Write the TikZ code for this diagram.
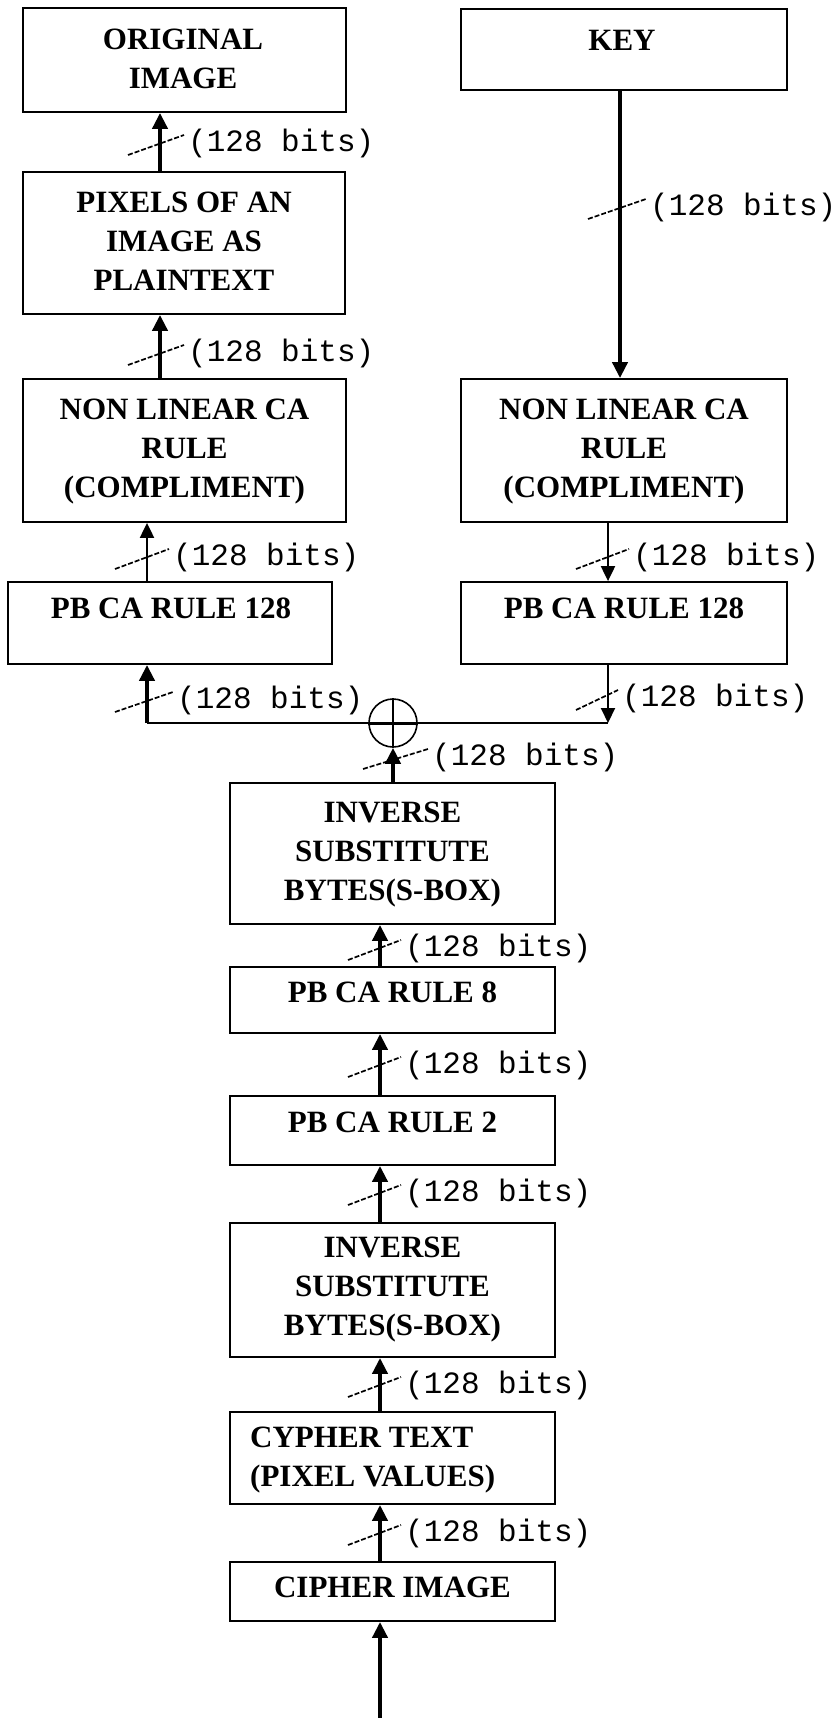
\documentclass[tikz,border=0pt]{standalone}
\usepackage{fontspec}
\setmainfont{Liberation Serif}
\newfontfamily\monof{Liberation Mono}
\usetikzlibrary{arrows.meta}
\newcommand\bitlabel[4]{%
  \draw[slash] (#2-32,#3+12) -- (#2+#4-4,#3-8);
  \node[bits] (#1) at (#2+#4,#3) {(128 bits)};}
\begin{document}
\begin{tikzpicture}[x=1pt,y=-1pt,
  blk/.style={draw, line width=1.8pt, inner sep=0pt},
  txt/.style={font=\bfseries\fontsize{31}{39}\selectfont, align=center, inner sep=0pt},
  bits/.style={font=\monof\fontsize{31}{31}\selectfont, anchor=west, inner sep=0pt},
  thk/.style={line width=4pt, -{Triangle[length=16pt,width=15pt]}},
  thn/.style={line width=2pt, -{Triangle[length=15pt,width=14pt]}},
  slash/.style={line width=1.7pt, dash pattern=on 5pt off 2pt}
]
\useasboundingbox (0,0) rectangle (836,1718);
% boxes
\node[blk, minimum width=323, minimum height=104] (orig) at (184.5,60) {};
\node[blk, minimum width=326, minimum height=81] (key) at (624,49.5) {};
\node[blk, minimum width=322, minimum height=142] (pix) at (184,243) {};
\node[blk, minimum width=323, minimum height=143] (nll) at (184.5,450.5) {};
\node[blk, minimum width=326, minimum height=143] (nlr) at (624,450.5) {};
\node[blk, minimum width=324, minimum height=82] (pbl) at (170,623) {};
\node[blk, minimum width=326, minimum height=82] (pbr) at (624,623) {};
\node[draw, circle, minimum size=48pt, inner sep=0pt, line width=1.6pt] (xor) at (393,723) {};
\node[blk, minimum width=325, minimum height=141] (inv1) at (392.5,853.5) {};
\node[blk, minimum width=325, minimum height=66] (pb8) at (392.5,1000) {};
\node[blk, minimum width=325, minimum height=69] (pb2) at (392.5,1130.5) {};
\node[blk, minimum width=325, minimum height=134] (inv2) at (392.5,1290) {};
\node[blk, minimum width=325, minimum height=92] (cyph) at (392.5,1458) {};
\node[blk, minimum width=325, minimum height=59] (ciph) at (392.5,1591.5) {};
% texts
\node[txt] (torig) at (183,59) {ORIGINAL\\IMAGE};
\node[txt] (tkey) at (622,40) {KEY};
\node[txt] (tpix) at (184,241) {PIXELS OF AN\\IMAGE AS\\PLAINTEXT};
\node[txt] (tnll) at (184.5,452) {NON LINEAR CA\\RULE\\(COMPLIMENT)};
\node[txt] (tnlr) at (624,452) {NON LINEAR CA\\RULE\\(COMPLIMENT)};
\node[txt] (tpbl) at (171,608) {PB CA RULE 128};
\node[txt] (tpbr) at (624,608) {PB CA RULE 128};
\node[txt] (tinv1) at (392.5,855) {INVERSE\\SUBSTITUTE\\BYTES(S-BOX)};
\node[txt] (tpb8) at (392.5,992) {PB CA RULE 8};
\node[txt] (tpb2) at (392.5,1122) {PB CA RULE 2};
\node[txt] (tinv2) at (392.5,1290) {INVERSE\\SUBSTITUTE\\BYTES(S-BOX)};
\node[txt, align=left, anchor=west] (tcyph) at (250,1460) {CYPHER TEXT\\(PIXEL VALUES)};
\node[txt] (tciph) at (392.5,1587) {CIPHER IMAGE};
% xor cross
\draw[line width=2pt] (xor.north) -- (xor.south);
\coordinate (jl) at (147,723);
\coordinate (jr) at (608,723);
\coordinate (src) at (380,1718);
\draw[line width=2pt] (jl) -- (jr);
\draw[line width=3pt] (xor.west) -- (xor.east);
% arrows
\draw[thk] ([xshift=-24pt]pix.north) -- ([xshift=-24.5pt]orig.south);
\draw[thk] ([xshift=-24.5pt]nll.north) -- ([xshift=-24pt]pix.south);
\draw[thn] ([xshift=-23pt]pbl.north) -- ([xshift=-37.5pt]nll.south);
\draw[thk] (jl) -- ([xshift=-23pt]pbl.south);
\draw[thk] ([xshift=-4pt]key.south) -- ([xshift=-4pt]nlr.north);
\draw[thn] ([xshift=-16pt]nlr.south) -- ([xshift=-16pt]pbr.north);
\draw[thn] ([xshift=-16pt]pbr.south) -- (jr);
\draw[thk] (xor.south |- inv1.north) -- (xor.south);
\draw[thk] ([xshift=-12.5pt]pb8.north) -- ([xshift=-12.5pt]inv1.south);
\draw[thk] ([xshift=-12.5pt]pb2.north) -- ([xshift=-12.5pt]pb8.south);
\draw[thk] ([xshift=-12.5pt]inv2.north) -- ([xshift=-12.5pt]pb2.south);
\draw[thk] ([xshift=-12.5pt]cyph.north) -- ([xshift=-12.5pt]inv2.south);
\draw[thk] ([xshift=-12.5pt]ciph.north) -- ([xshift=-12.5pt]cyph.south);
\draw[thk] (src) -- ([xshift=-12.5pt]ciph.south);
% bit labels
\bitlabel{b1}{160}{143}{28}
\bitlabel{b2}{160}{353}{28}
\bitlabel{b3}{147}{557}{26}
\bitlabel{b4}{147}{700}{30}
\bitlabel{b5}{620}{207}{30}
\bitlabel{b6}{608}{557}{25}
\bitlabel{b7}{608}{698}{14}
\bitlabel{b8}{395}{757}{37}
\bitlabel{b9}{380}{948}{25}
\bitlabel{b10}{380}{1065}{25}
\bitlabel{b11}{380}{1193}{25}
\bitlabel{b12}{380}{1385}{25}
\bitlabel{b13}{380}{1533}{25}
\end{tikzpicture}
\end{document}
